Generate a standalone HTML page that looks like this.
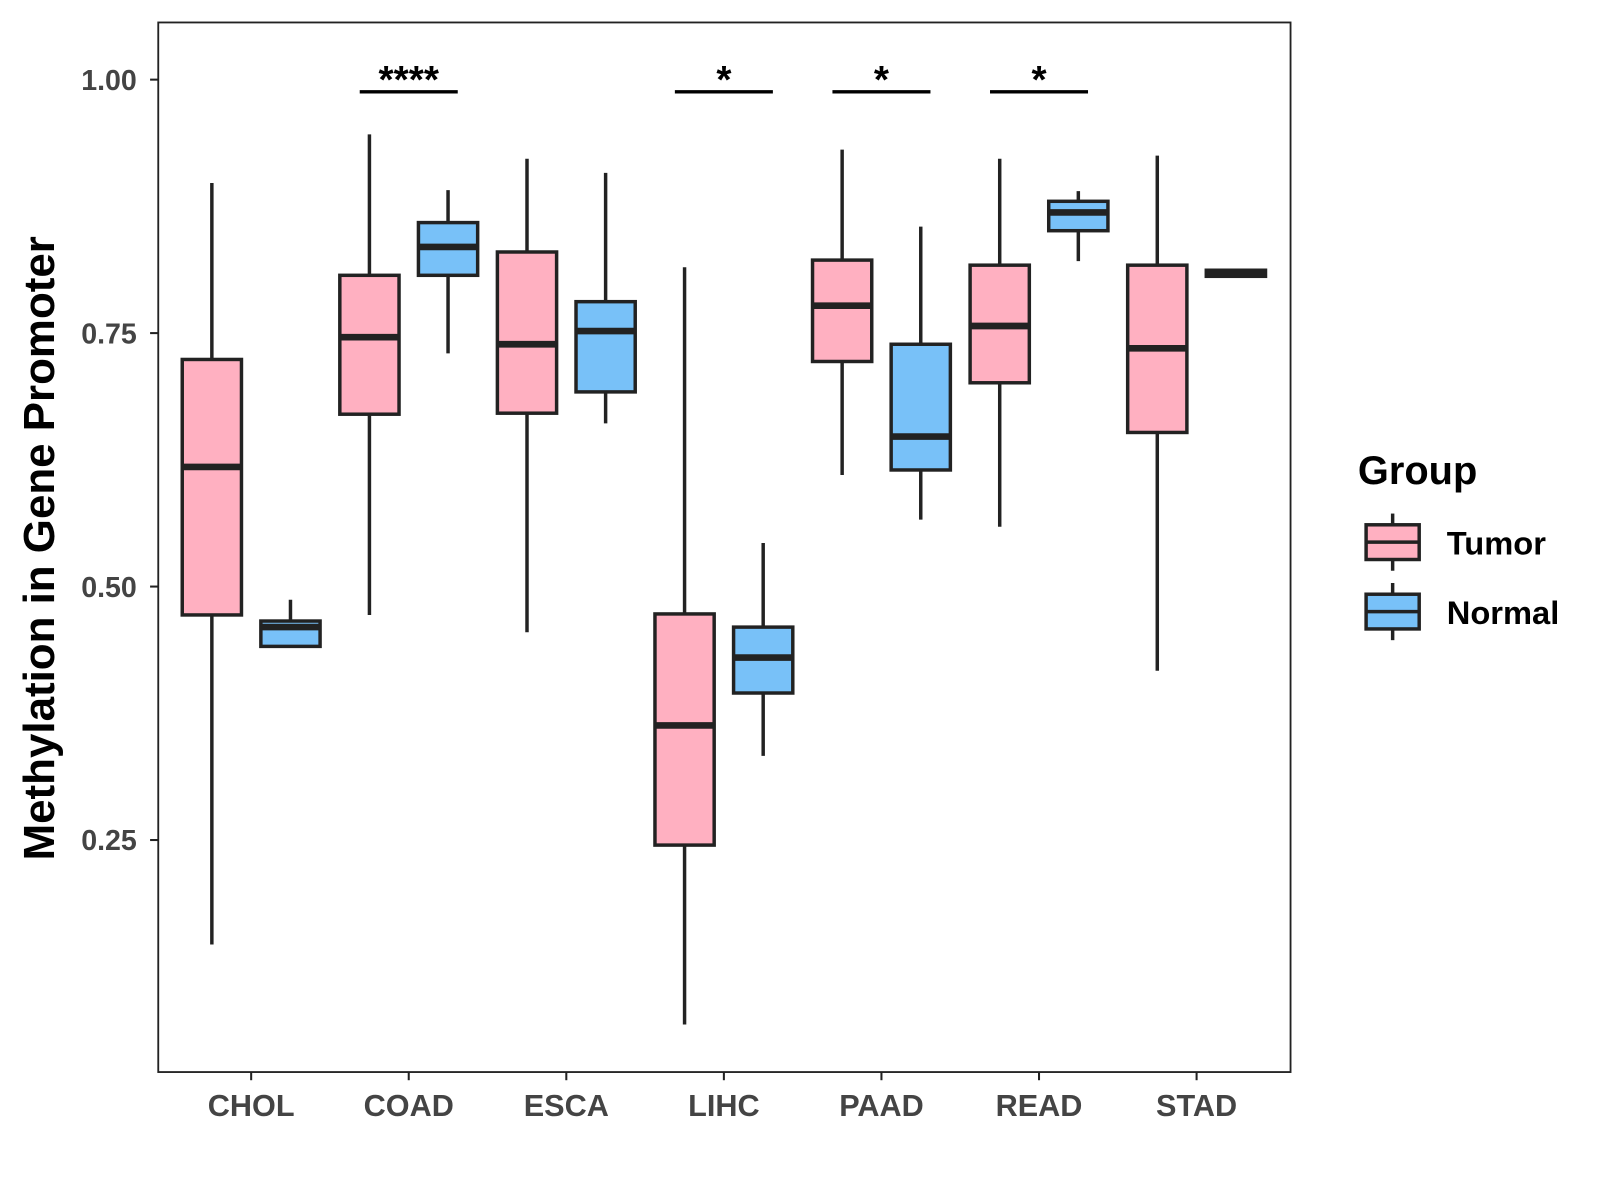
<!DOCTYPE html>
<html><head><meta charset="utf-8"><style>
html,body{margin:0;padding:0;background:#fff}
svg{display:block;font-family:"Liberation Sans",Arial,sans-serif}
</style></head><body>
<svg id="chart" width="1600" height="1200" viewBox="0 0 1600 1200">
<g transform="scale(1.021)">
<rect x="155" y="22" width="1109" height="1028" fill="#fff" stroke="#222" stroke-width="1.8"/>
<g id="boxes"></g>
<g id="axes"></g>
<text transform="translate(53,537) rotate(-90)" text-anchor="middle" font-size="43" font-weight="bold" fill="#000">Methylation in Gene Promoter</text>
<g>
<text x="1330" y="474" font-size="39" font-weight="bold">Group</text>
<g>
<line x1="1364" y1="503" x2="1364" y2="559" stroke="#222" stroke-width="3.4"/>
<rect x="1338" y="514" width="52" height="34" fill="#FFB0C1" stroke="#222" stroke-width="3.4"/>
<line x1="1338" y1="531" x2="1390" y2="531" stroke="#222" stroke-width="3.4"/>
<text x="1417" y="543" font-size="32" font-weight="bold">Tumor</text></g>
<g>
<line x1="1364" y1="571" x2="1364" y2="627" stroke="#222" stroke-width="3.4"/>
<rect x="1338" y="582" width="52" height="34" fill="#78C1F8" stroke="#222" stroke-width="3.4"/>
<line x1="1338" y1="599" x2="1390" y2="599" stroke="#222" stroke-width="3.4"/>
<text x="1417" y="611" font-size="32" font-weight="bold">Normal</text></g>
</g>
</g>
</svg>
<script>
const categories=["CHOL","COAD","ESCA","LIHC","PAAD","READ","STAD"];
// [low, q1, median, q3, high]
const tumorStats=[[0.147,0.472,0.618,0.724,0.898],[0.472,0.670,0.746,0.807,0.946],[0.455,0.671,0.739,0.830,0.922],[0.068,0.245,0.363,0.473,0.815],[0.610,0.722,0.777,0.822,0.931],[0.559,0.701,0.757,0.817,0.922],[0.417,0.652,0.735,0.817,0.925]];
const normalStats=[[0.441,0.441,0.460,0.466,0.487],[0.730,0.807,0.835,0.859,0.891],[0.661,0.692,0.752,0.781,0.908],[0.333,0.395,0.430,0.460,0.543],[0.566,0.615,0.648,0.739,0.855],[0.821,0.851,0.869,0.880,0.890],[0.806,0.806,0.809,0.812,0.812]];
const yTicks=[0.25,0.50,0.75,1.00];
const yTickLabels=["0.25","0.50","0.75","1.00"];
const sigLabels=["","****","","*","*","*",""];
const sigLevel=0.988;

const NS="http://www.w3.org/2000/svg";
function y(v){return 78+(1-v)*993;}
function x(i){return 246+i*154.33;}
function mk(tag,attrs,parent){const e=document.createElementNS(NS,tag);for(const k in attrs)e.setAttribute(k,attrs[k]);parent.appendChild(e);return e;}
const boxes=document.getElementById('boxes'),axes=document.getElementById('axes');
function drawBox(s,cx,fill,name){
  const g=mk('g',{},boxes);
  
  
  mk('line',{x1:cx,x2:cx,y1:y(s[4]),y2:y(s[0]),stroke:'#222','stroke-width':3.4},g);
  mk('rect',{x:cx-29,width:58,y:y(s[3]),height:Math.max(y(s[1])-y(s[3]),0.5),fill:fill,stroke:'#222','stroke-width':3.4},g);
  mk('line',{x1:cx-29,x2:cx+29,y1:y(s[2]),y2:y(s[2]),stroke:'#222','stroke-width':6.5},g);
}
categories.forEach((c,i)=>{
  drawBox(tumorStats[i],x(i)-38.5,'#FFB0C1','box-tumor-'+c.toLowerCase());
  drawBox(normalStats[i],x(i)+38.5,'#78C1F8','box-normal-'+c.toLowerCase());
  const t=mk('line',{x1:x(i),x2:x(i),y1:1050,y2:1058,stroke:'#222','stroke-width':2},axes);
  
  
  const l=mk('text',{x:x(i),y:1093,'text-anchor':'middle','font-size':30,'font-weight':'bold',fill:'#444'},axes);
  l.textContent=c;
  
  
  if(sigLabels[i]){
    const b=mk('line',{x1:x(i)-48,x2:x(i)+48,y1:y(sigLevel),y2:y(sigLevel),stroke:'#000','stroke-width':3.2},axes);
    
    
    const st=mk('text',{x:x(i),y:y(sigLevel)+1,'text-anchor':'middle','font-size':38,'font-weight':'bold'},axes);
    st.textContent=sigLabels[i];
    
    
  }
});
yTicks.forEach((v,i)=>{
  const t=mk('line',{x1:147,x2:155,y1:y(v),y2:y(v),stroke:'#222','stroke-width':2},axes);
  
  
  const l=mk('text',{x:134,y:y(v)+10,'text-anchor':'end','font-size':28,'font-weight':'bold',fill:'#444'},axes);
  l.textContent=yTickLabels[i];
  
  
});
</script>
</body></html>
